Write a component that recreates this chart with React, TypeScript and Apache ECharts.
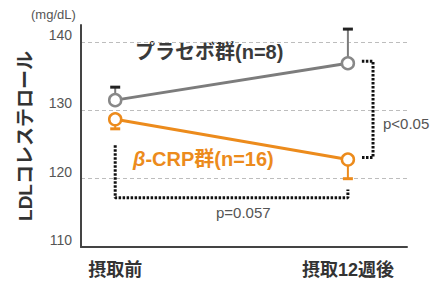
import React, { useEffect, useRef } from "react";
import * as echarts from "echarts";

const phases = ["摂取前", "摂取12週後"];
const phaseX = [0, 1];
const yTicks = [110, 120, 130, 140];
const placeboMean = [131.5, 136.9];
const placeboErrEnd = [133.4, 141.9];
const crpMean = [128.7, 122.8];
const crpErrEnd = [127.3, 120.0];
// significance brackets (data space)
const bracketBottom = [
  [0, 124.9],
  [0, 117.2],
  [1, 117.2],
  [1, 118.4],
];
const bracketRight = [
  [1.06, 137.2],
  [1.108, 137.2],
  [1.108, 123.1],
  [1.06, 123.1],
];

const FONT = "'Liberation Sans', 'Noto Sans CJK JP', sans-serif";
const GRAY = "#7c7c7c";
const ORANGE = "#ec8b1c";

function errSeries(mean: number[], end: number[], stem: string, cap: string) {
  return {
    type: "custom",
    z: 2,
    data: phaseX.map((x, i) => [x, mean[i], end[i]]),
    encode: { x: 0, y: [1, 2] },
    renderItem: (_p: any, api: any) => {
      const c = api.coord([api.value(0), api.value(1)]);
      const e = api.coord([api.value(0), api.value(2)]);
      return {
        type: "group",
        children: [
          { type: "line", shape: { x1: c[0], y1: c[1], x2: e[0], y2: e[1] }, style: { stroke: stem, lineWidth: 2 } },
          { type: "rect", shape: { x: e[0] - 5, y: e[1] - 1.5, width: 10, height: 3 }, style: { fill: cap } },
        ],
      };
    },
  };
}

function bracket(data: number[][]) {
  return {
    type: "line",
    z: 1,
    data,
    symbol: "none",
    silent: true,
    lineStyle: { color: "#111", width: 3, type: [2.5, 1.5], cap: "butt" },
  };
}

export default function App() {
  const ref = useRef<HTMLDivElement>(null);
  useEffect(() => {
    if (!ref.current) return;
    const chart = echarts.init(ref.current, null, { renderer: "svg" });
    chart.setOption({
      animation: false,
      backgroundColor: "#ffffff",
      grid: { left: 81, right: 31, top: 25, bottom: 36, containLabel: false, outerBoundsMode: "none" },
      xAxis: {
        type: "value",
        min: -0.147,
        max: 1.254,
        splitLine: { show: false },
        axisTick: { show: false },
        axisLine: { show: true, onZero: false, lineStyle: { color: "#444", width: 2 } },
        axisLabel: {
          customValues: phaseX,
          formatter: (v: number) => phases[phaseX.indexOf(Math.round(v))] ?? "",
          fontSize: 18,
          fontWeight: "bold",
          color: "#333",
          fontFamily: FONT,
          margin: 14,
        },
      },
      yAxis: {
        type: "value",
        min: yTicks[0],
        max: 142.5,
        interval: 10,
        name: "LDLコレステロール",
        nameLocation: "middle",
        nameRotate: 90,
        nameGap: 46,
        nameTextStyle: { fontSize: 19, fontWeight: "bold", color: "#333", fontFamily: FONT },
        axisLine: { show: true, onZero: false, lineStyle: { color: "#444", width: 2 } },
        axisTick: { show: false },
        axisLabel: {
          showMaxLabel: false,
          fontSize: 14,
          color: "#555",
          fontFamily: FONT,
          margin: 9,
          verticalAlign: "bottom",
          lineHeight: 14,
        },
        splitLine: {
          show: true,
          showMinLine: false,
          showMaxLine: false,
          lineStyle: { color: "#bdbdbd", type: [4, 3], width: 1 },
        },
      },
      graphic: [
        { type: "text", left: 31, top: 8, style: { text: "(mg/dL)", fontSize: 13, fill: "#555", fontFamily: FONT } },
        {
          type: "text",
          left: 135,
          top: 42,
          style: { text: "プラセボ群(n=8)", fontSize: 20, fontWeight: "bold", fill: "#3a3a3a", fontFamily: FONT },
        },
        {
          type: "text",
          left: 133,
          top: 149,
          style: {
            text: "{b|β}-CRP群(n=16)",
            fontSize: 20,
            fontWeight: "bold",
            fill: ORANGE,
            fontFamily: FONT,
            rich: { b: { fontStyle: "italic", fontSize: 20, fontWeight: "bold", fill: ORANGE, fontFamily: FONT } },
          },
        },
        { type: "text", left: 216, top: 205, style: { text: "p=0.057", fontSize: 15, fill: "#555", fontFamily: FONT } },
        { type: "text", left: 383, top: 116, style: { text: "p<0.05", fontSize: 15, fill: "#555", fontFamily: FONT } },
      ],
      series: [
        bracket(bracketBottom),
        bracket(bracketRight),
        errSeries(placeboMean, placeboErrEnd, GRAY, "#222"),
        errSeries(crpMean, crpErrEnd, ORANGE, ORANGE),
        {
          type: "line",
          z: 3,
          data: phaseX.map((x, i) => [x, placeboMean[i]]),
          symbol: "circle",
          symbolSize: 12,
          itemStyle: { color: "#fff", borderColor: "#888", borderWidth: 2.5 },
          lineStyle: { color: GRAY, width: 3 },
        },
        {
          type: "line",
          z: 3,
          data: phaseX.map((x, i) => [x, crpMean[i]]),
          symbol: "circle",
          symbolSize: 12,
          itemStyle: { color: "#fff", borderColor: ORANGE, borderWidth: 2.5 },
          lineStyle: { color: ORANGE, width: 3 },
        },
      ],
    });
    return () => chart.dispose();
  }, []);
  return (
    <div
      ref={ref}
      style={{ position: "fixed", left: 0, top: 0, width: 438, height: 283 }}
    />
  );
}
